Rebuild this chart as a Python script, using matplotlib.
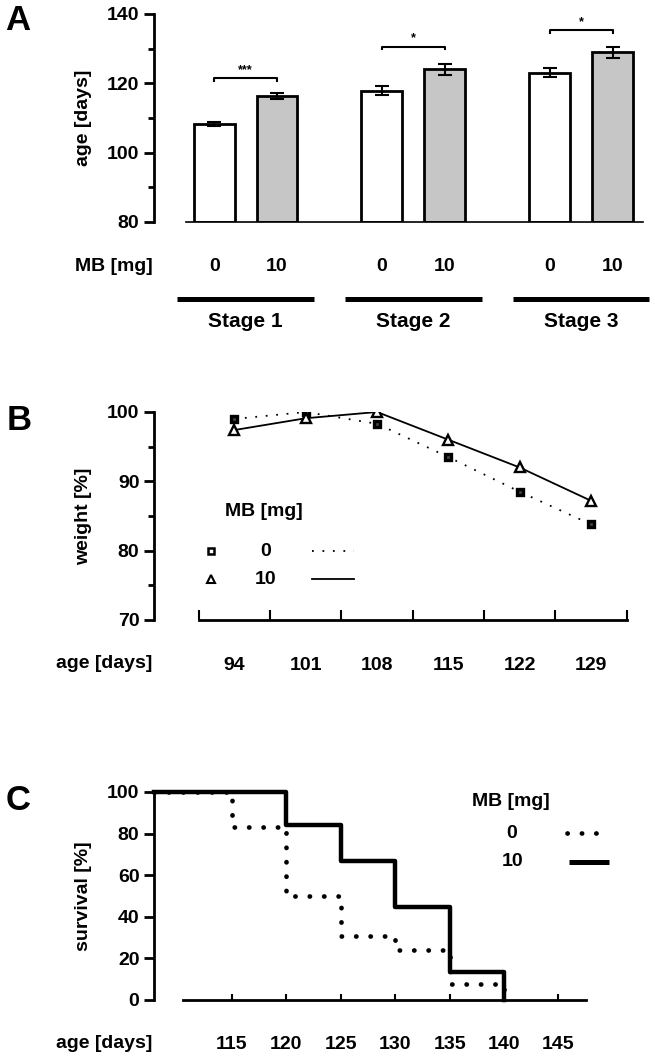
import matplotlib
matplotlib.use("Agg")
import matplotlib.pyplot as plt

plt.rcParams['font.family'] = ['Liberation Sans', 'DejaVu Sans']
plt.rcParams['font.weight'] = 'bold'
plt.rcParams['axes.labelweight'] = 'bold'

# panel A - age at stage onset
stages = ["Stage 1", "Stage 2", "Stage 3"]
doses = ["0", "10"]
age_0 = [108.3, 117.9, 123.1]
age_10 = [116.3, 124.1, 129.0]
err_0 = [0.5, 1.2, 1.4]
err_10 = [0.9, 1.6, 1.6]
stars = ["***", "*", "*"]
star_y = [121.6, 130.6, 135.4]

# panel B - weight
days_b = [94, 101, 108, 115, 122, 129]
weight_0 = [99.0, 100.0, 98.3, 93.5, 88.5, 83.8]
weight_10 = [97.4, 99.1, 100.0, 96.0, 92.0, 87.2]

# panel C - survival
surv_t0 = [107.84, 115, 120, 125, 130, 135, 140]
surv_0 = [100, 83, 50, 31, 24, 7.5, 0]
surv_t10 = [107.84, 120, 125, 130, 135, 140]
surv_10 = [100, 84, 67, 44.5, 13.3, 0]
days_c = [115, 120, 125, 130, 135, 140, 145]

fs = 14
W, H = 655, 1061
fig = plt.figure(figsize=(W / 100, H / 100), dpi=100)

def box(l, t, r, b):
    return [l / W, 1 - b / H, (r - l) / W, (b - t) / H]

def style_left(ax):
    for s in ["top", "right"]:
        ax.spines[s].set_visible(False)
    ax.spines["left"].set_linewidth(2)
    ax.tick_params(axis="y", which="both", direction="out", width=2, labelsize=fs, pad=3.5)
    ax.tick_params(axis="y", which="major", length=7)
    ax.tick_params(axis="y", which="minor", length=4)

dotted_c = (0, (0.05, 3.0))

# ---------- A ----------
axA = fig.add_axes(box(154, 14, 643.3, 222))
style_left(axA)
gap = 2.67
centers = [i * gap for i in range(3)]
x0 = [c for c in centers]
x1 = [c + 1 for c in centers]
axA.bar(x0, [a - 80 for a in age_0], bottom=80, width=0.65, color="white", edgecolor="black", linewidth=2, zorder=2)
axA.bar(x1, [a - 80 for a in age_10], bottom=80, width=0.65, color="#c6c6c6", edgecolor="black", linewidth=2, zorder=2)
axA.errorbar(x0, age_0, yerr=err_0, fmt="none", ecolor="black", elinewidth=1.5, capsize=5, capthick=1.5, zorder=3)
axA.errorbar(x1, age_10, yerr=err_10, fmt="none", ecolor="black", elinewidth=1.5, capsize=5, capthick=1.5, zorder=3)
for c, s, y in zip(centers, stars, star_y):
    axA.plot([c, c, c + 1, c + 1], [y - 0.8, y, y, y - 0.8], color="black", lw=1.5)
    axA.text(c + 0.5, y + 0.6, s, ha="center", va="bottom", fontsize=9)
axA.set_xlim(-0.957, 6.83)
axA.set_ylim(80, 140)
axA.set_yticks([80, 100, 120, 140])
axA.set_yticks([90, 110, 130], minor=True)
axA.spines["bottom"].set_bounds(-0.45, 6.83)
axA.spines["bottom"].set_linewidth(1.2)
axA.set_xticks([])
axA.set_ylabel("age [days]", fontsize=fs, labelpad=11)
tr = axA.get_xaxis_transform()
axA.text(-0.98, -0.213, "MB [mg]", transform=tr, ha="right", va="center", fontsize=fs)
for c, st in zip(centers, stages):
    axA.text(c, -0.213, doses[0], transform=tr, ha="center", va="center", fontsize=fs)
    axA.text(c + 1, -0.213, doses[1], transform=tr, ha="center", va="center", fontsize=fs)
    axA.plot([c + 0.5 - 1.087, c + 0.5 + 1.087], [-0.37, -0.37], transform=tr, color="black", lw=3.6, clip_on=False, solid_capstyle="butt")
    axA.text(c + 0.5, -0.48, st, transform=tr, ha="center", va="center", fontsize=15)
fig.text(5 / W, 1 - 20 / H, "A", fontsize=25, va="center", ha="left")

# ---------- B ----------
axB = fig.add_axes(box(154, 412, 626.6, 620))
style_left(axB)
dotted_b = (0, (1, 4.8))
axB.plot(days_b, weight_0, color="black", lw=1.3, linestyle=dotted_b, marker="s", markersize=5, mfc="#444444", mec="black", mew=2.4)
axB.plot(days_b, weight_10, color="black", lw=1.3, marker="^", markersize=6.5, mfc="white", mec="black", mew=1.7)
axB.set_xlim(86.1, 132.5)
axB.set_ylim(70, 100)
axB.set_yticks([70, 80, 90, 100])
axB.set_yticks([75, 85, 95], minor=True)
axB.spines["bottom"].set_bounds(90.5, 132.5)
axB.spines["bottom"].set_linewidth(2)
axB.set_xticks([90.5 + 7 * i for i in range(7)])
axB.set_xticklabels([])
axB.tick_params(axis="x", which="major", direction="in", length=7, width=1.5)
axB.set_xticks(days_b, minor=True)
axB.set_xticklabels([str(d) for d in days_b], minor=True)
axB.tick_params(axis="x", which="minor", length=0, labelsize=fs, pad=27)
axB.set_ylabel("weight [%]", fontsize=fs, labelpad=11)
trB = axB.transAxes
wB = 626.6 - 154
lx = lambda px: (px - 154) / wB
ly = lambda py: (620 - py) / 208
axB.text(lx(152.5), ly(664), "age [days]", transform=trB, ha="right", va="center", fontsize=fs)
# legend
axB.text(lx(225), ly(512), "MB [mg]", transform=trB, ha="left", va="center", fontsize=fs)
axB.plot([lx(211)], [ly(551)], transform=trB, marker="s", markersize=4.5, mfc="white", mec="black", mew=1.8, color="black")
axB.text(lx(266), ly(551), "0", transform=trB, ha="center", va="center", fontsize=fs)
axB.plot([lx(312), lx(354)], [ly(551), ly(551)], transform=trB, color="black", lw=1.3, linestyle=dotted_b)
axB.plot([lx(211)], [ly(579)], transform=trB, marker="^", markersize=5.5, mfc="white", mec="black", mew=1.5, color="black")
axB.text(lx(266), ly(579), "10", transform=trB, ha="center", va="center", fontsize=fs)
axB.plot([lx(312), lx(354)], [ly(579), ly(579)], transform=trB, color="black", lw=1.3)
fig.text(7 / W, 1 - 420 / H, "B", fontsize=25, va="center", ha="left")

# ---------- C ----------
axC = fig.add_axes(box(154, 792, 586, 1000))
style_left(axC)
axC.step(surv_t10, surv_10, where="post", color="black", lw=3.2, clip_on=False, zorder=2)
axC.step(surv_t0, surv_0, where="post", color="black", lw=3.4, linestyle=dotted_c, dash_capstyle="round", clip_on=False, zorder=3)
axC.set_xlim(107.84, 147.53)
axC.set_ylim(0, 100)
axC.set_yticks([0, 20, 40, 60, 80, 100])
axC.spines["bottom"].set_bounds(110.5, 147.53)
axC.spines["bottom"].set_linewidth(2)
axC.set_xticks(days_c)
axC.set_xticklabels([str(d) for d in days_c])
axC.tick_params(axis="x", direction="in", length=4, width=1.5, labelsize=fs, pad=26)
axC.set_ylabel("survival [%]", fontsize=fs, labelpad=11)
trC = axC.transAxes
wC = 586 - 154
cx = lambda px: (px - 154) / wC
cy = lambda py: (1000 - py) / 208
axC.text(cx(152.5), cy(1043), "age [days]", transform=trC, ha="right", va="center", fontsize=fs)
axC.text(cx(472), cy(802), "MB [mg]", transform=trC, ha="left", va="center", fontsize=fs)
axC.text(cx(512), cy(833), "0", transform=trC, ha="center", va="center", fontsize=fs)
axC.plot([cx(567), cx(610)], [cy(833), cy(833)], transform=trC, color="black", lw=3.4, linestyle=dotted_c, dash_capstyle="round", clip_on=False)
axC.text(cx(513), cy(862), "10", transform=trC, ha="center", va="center", fontsize=fs)
axC.plot([cx(569), cx(609)], [cy(862), cy(862)], transform=trC, color="black", lw=3.6, clip_on=False, solid_capstyle="butt")
fig.text(6 / W, 1 - 801 / H, "C", fontsize=25, va="center", ha="left")

fig.savefig("out.png", dpi=100)
